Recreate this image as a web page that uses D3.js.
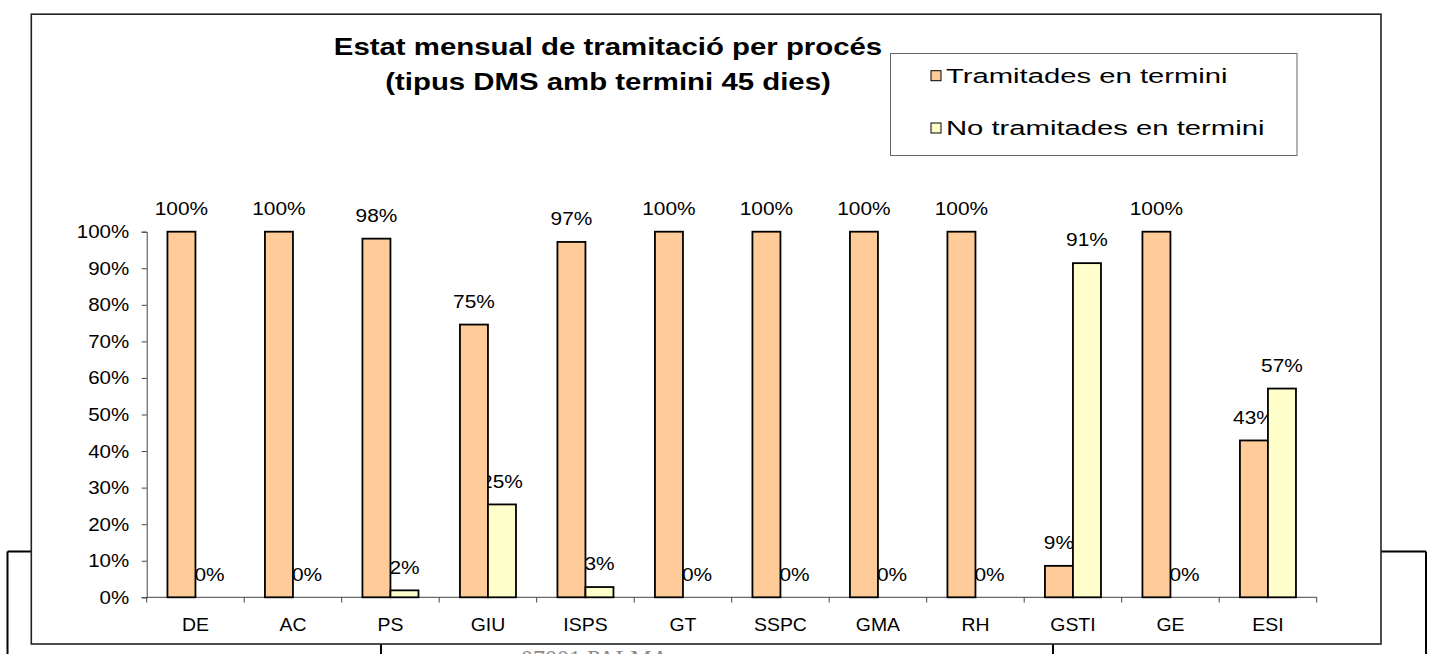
<!DOCTYPE html>
<html><head><meta charset="utf-8">
<script src="https://cdn.jsdelivr.net/npm/d3@7"></script>
<style>
body{margin:0;background:#fff;}
svg{display:block;font-family:"Liberation Sans",Arial,Helvetica,sans-serif;}
</style>
</head><body>
<svg id="c" width="1434" height="654"></svg>
<script>
// ---- data ----
const categories = ["DE","AC","PS","GIU","ISPS","GT","SSPC","GMA","RH","GSTI","GE","ESI"];
const seriesNames = ["Tramitades en termini","No tramitades en termini"];
const tramitades   = [1.00,1.00,0.981,0.746,0.972,1.00,1.00,1.00,1.00,0.086,1.00,0.429];
const noTramitades = [0.00,0.00,0.019,0.254,0.028,0.00,0.00,0.00,0.00,0.914,0.00,0.571];
const yTickValues = [0,0.1,0.2,0.3,0.4,0.5,0.6,0.7,0.8,0.9,1.0];
const titleLines = ["Estat mensual de tramitació per procés","(tipus DMS amb termini 45 dies)"];
const footerText = "07001 PALMA";

// ---- styles ----
const colors = ["#FFCC99","#FFFFCC"];
const svg = d3.select("#c");

function stxt(g, str, x, y, sx, anchor, size, weight){
  return g.append("text")
    .attr("transform", `translate(${x},${y}) scale(${sx},1)`)
    .attr("text-anchor", anchor)
    .attr("font-size", size)
    .attr("font-weight", weight || "normal")
    .attr("fill", "#000")
    .text(str);
}

// background document lines (behind chart)
const bg = svg.append("g").attr("stroke","#000").attr("stroke-width",2).attr("fill","none");
bg.append("line").attr("x1",7.5).attr("x2",1426).attr("y1",551.5).attr("y2",551.5);
[7.5,381,1053,1426].forEach(xv=>{
  bg.append("line").attr("x1",xv).attr("x2",xv).attr("y1",551.5).attr("y2",660);
});
svg.append("text").attr("x",595).attr("y",666).attr("text-anchor","middle")
  .attr("font-family","'Liberation Serif','Times New Roman',serif")
  .attr("font-size",24).attr("fill","#8a8a8a").text(footerText);

// chart area
svg.append("rect").attr("x",31.3).attr("y",14.2).attr("width",1349.7).attr("height",629.8)
  .attr("fill","#fff").attr("stroke","#222").attr("stroke-width",1.6);

// title
const tg = svg.append("g");
stxt(tg, titleLines[0], 608, 55, 1.25, "middle", 23.5, "bold");
stxt(tg, titleLines[1], 608, 90, 1.25, "middle", 23.5, "bold");

// legend
const lg = svg.append("g");
lg.append("rect").attr("x",890.5).attr("y",53.5).attr("width",406.5).attr("height",102)
  .attr("fill","#fff").attr("stroke","#666").attr("stroke-width",1);
seriesNames.forEach((s,i)=>{
  const cy = [75.7,128][i];
  lg.append("rect").attr("x",931).attr("y",cy-5).attr("width",10).attr("height",10)
    .attr("fill",colors[i]).attr("stroke","#000").attr("stroke-width",1);
  stxt(lg, s, 946, cy+6.8, 1.5, "start", 19.5);
});

// scales
const x0 = d3.scaleBand().domain(categories).range([146.7,1316.7]).padding(0);
const x1 = d3.scaleBand().domain(seriesNames).range([0,x0.bandwidth()]).paddingInner(0).paddingOuter(0.74);
const y = d3.scaleLinear().domain([0,1]).range([597.3,231.7]);

// y axis
const ya = svg.append("g").attr("transform","translate(146.7,0)")
  .call(d3.axisLeft(y).tickValues(yTickValues).tickSize(5).tickFormat(d3.format(".0%")));
ya.select(".domain").attr("stroke","#444");
ya.selectAll(".tick line").attr("stroke","#444");
ya.selectAll(".tick text").each(function(){
  const t = d3.select(this);
  t.attr("x",null).attr("dy",null)
   .attr("transform","translate(-17.5,6) scale(1.14,1)")
   .attr("font-size",18).attr("fill","#000")
   .attr("font-family",'"Liberation Sans",Arial,sans-serif');
});

// x axis
const xa = svg.append("g");
xa.append("line").attr("x1",146.7).attr("x2",1316.7).attr("y1",597.3).attr("y2",597.3)
  .attr("stroke","#444").attr("stroke-width",1);
const boundaries = categories.map(c=>x0(c)).concat([x0(categories[categories.length-1])+x0.bandwidth()]);
xa.selectAll("line.tk").data(boundaries).join("line").attr("class","tk")
  .attr("x1",d=>d).attr("x2",d=>d).attr("y1",597.3).attr("y2",602.5)
  .attr("stroke","#444").attr("stroke-width",1);
categories.forEach(c=>{
  stxt(xa, c, x0(c)+x0.bandwidth()/2, 630.7, 1.08, "middle", 18);
});

// data table
const data = categories.map((c,i)=>({cat:c, vals:[tramitades[i], noTramitades[i]]}));
const fmt = d3.format(".0%");

// labels (under bars, as in original)
const labG = svg.append("g");
data.forEach(d=>{
  d.vals.forEach((v,j)=>{
    const cx = x0(d.cat) + x1(seriesNames[j]) + x1.bandwidth()/2;
    stxt(labG, fmt(v), cx, y(v)-16.8, 1.16, "middle", 18);
  });
});

// bars
const barG = svg.append("g");
data.forEach(d=>{
  barG.selectAll(null).data(d.vals).join("rect")
    .attr("x",(v,j)=>x0(d.cat)+x1(seriesNames[j]))
    .attr("y",v=>y(v))
    .attr("width",x1.bandwidth())
    .attr("height",v=>y(0)-y(v))
    .attr("fill",(v,j)=>colors[j])
    .attr("stroke","#000").attr("stroke-width",1.8);
});
</script>
</body></html>
